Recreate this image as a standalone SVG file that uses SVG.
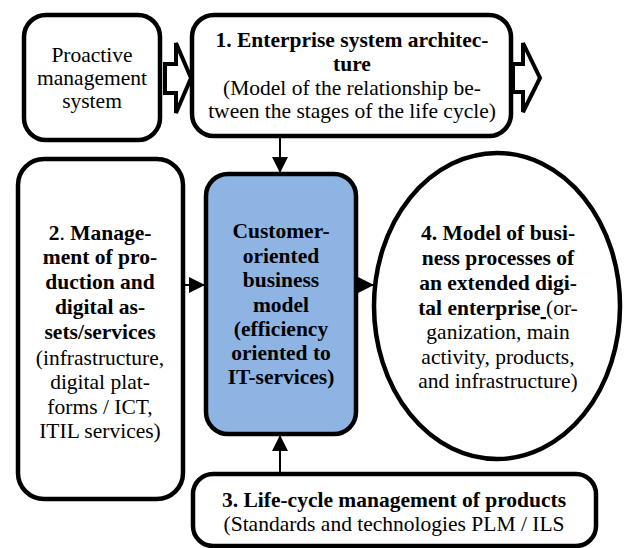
<svg xmlns="http://www.w3.org/2000/svg" width="625" height="548" viewBox="0 0 625 548">
<defs>
<marker id="ah" markerUnits="userSpaceOnUse" markerWidth="16" markerHeight="16" viewBox="0 0 16 16" refX="16" refY="8" orient="auto">
<path d="M0,0 L16,8 L0,16 Z" fill="#000"/>
</marker>
</defs>
<style>
.box{fill:#fff;stroke:#000;stroke-width:4.5}
.ctr{fill:#8EB4E3;stroke:#000;stroke-width:4.5}
.blk{fill:#fff;stroke:#000;stroke-width:4;stroke-linejoin:miter}
.con{stroke:#000;stroke-width:2;fill:none;marker-end:url(#ah)}
.t{font-family:'Liberation Serif','Times New Roman',serif;font-size:21.5px;fill:#000;text-anchor:middle}
.b{font-weight:bold}
</style>
<rect width="625" height="548" fill="#fff"/>
<g id="connectors">
<polygon class="blk" points="165,64 176,64 176,43 191,78 176,113 176,93 165,93"/>
<polygon class="blk" points="513,64 523,64 523,43 540,78 523,112 523,92 513,92"/>
<line class="con" x1="280" y1="137" x2="280" y2="173"/>
<line class="con" x1="184" y1="285" x2="205" y2="285"/>
<line class="con" x1="356" y1="285" x2="374" y2="285"/>
<line class="con" x1="280" y1="473" x2="280" y2="435"/>
</g>
<g id="proactive">
<rect class="box" x="24" y="15" width="136" height="125" rx="22"/>
<text class="t" font-family="Liberation Serif" x="92" y="62">Proactive</text>
<text class="t" font-family="Liberation Serif" x="92" y="85">management</text>
<text class="t" font-family="Liberation Serif" x="92" y="108">system</text>
</g>
<g id="n1">
<rect class="box" x="192" y="15" width="319" height="121" rx="22"/>
<text class="t b" font-family="Liberation Serif" x="352" y="47">1. Enterprise system architec-</text>
<text class="t b" font-family="Liberation Serif" x="352" y="71">ture</text>
<text class="t" font-family="Liberation Serif" x="352" y="95">(Model of the relationship be-</text>
<text class="t" font-family="Liberation Serif" x="352" y="118">tween the stages of the life cycle)</text>
</g>
<g id="n2">
<rect class="box" x="18" y="159" width="165" height="340" rx="26"/>
<text class="t" font-family="Liberation Serif" x="100" y="240"><tspan class="b">2</tspan>. <tspan class="b">Manage-</tspan></text>
<text class="t b" font-family="Liberation Serif" x="100" y="264">ment of pro-</text>
<text class="t b" font-family="Liberation Serif" x="100" y="289">duction and</text>
<text class="t b" font-family="Liberation Serif" x="100" y="314">digital as-</text>
<text class="t b" font-family="Liberation Serif" x="100" y="339">sets/services</text>
<text class="t" font-family="Liberation Serif" x="100" y="365">(infrastructure,</text>
<text class="t" font-family="Liberation Serif" x="100" y="389">digital plat-</text>
<text class="t" font-family="Liberation Serif" x="100" y="414">forms / ICT,</text>
<text class="t" font-family="Liberation Serif" x="100" y="438">ITIL services)</text>
</g>
<g id="center">
<rect class="ctr" x="206" y="174" width="150" height="260" rx="22"/>
<text class="t b" font-family="Liberation Serif" x="281" y="238">Customer-</text>
<text class="t b" font-family="Liberation Serif" x="281" y="263">oriented</text>
<text class="t b" font-family="Liberation Serif" x="281" y="287">business</text>
<text class="t b" font-family="Liberation Serif" x="281" y="312">model</text>
<text class="t b" font-family="Liberation Serif" x="281" y="336">(efficiency</text>
<text class="t b" font-family="Liberation Serif" x="281" y="360">oriented to</text>
<text class="t b" font-family="Liberation Serif" x="281" y="384">IT-services)</text>
</g>
<g id="n4">
<ellipse class="box" cx="497" cy="306" rx="123" ry="153"/>
<text class="t b" font-family="Liberation Serif" x="498" y="240">4. Model of busi-</text>
<text class="t b" font-family="Liberation Serif" x="498" y="265">ness processes of</text>
<text class="t b" font-family="Liberation Serif" x="498" y="290">an extended digi-</text>
<text class="t" font-family="Liberation Serif" x="498" y="315"><tspan class="b">tal enterprise</tspan><tspan text-decoration="underline">&#160;</tspan>(or-</text>
<text class="t" font-family="Liberation Serif" x="498" y="339">ganization, main</text>
<text class="t" font-family="Liberation Serif" x="498" y="364">activity, products,</text>
<text class="t" font-family="Liberation Serif" x="498" y="388">and infrastructure)</text>
</g>
<g id="n3">
<rect class="box" x="193" y="474" width="403" height="72" rx="20"/>
<text class="t b" font-family="Liberation Serif" x="394" y="507">3. Life-cycle management of products</text>
<text class="t" font-family="Liberation Serif" x="394" y="531">(Standards and technologies PLM / ILS</text>
</g>
</svg>
